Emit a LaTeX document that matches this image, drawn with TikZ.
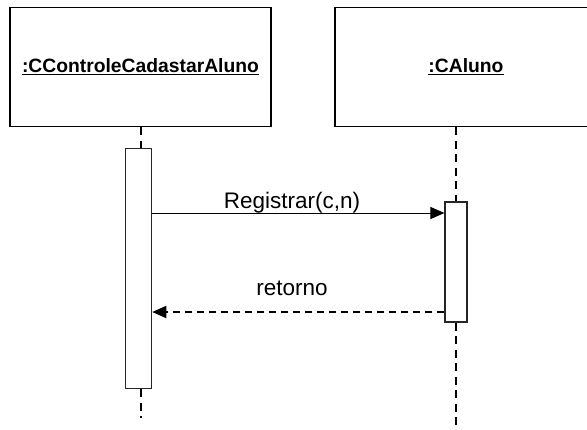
\documentclass[tikz,border=0pt]{standalone}
\usepackage{fontspec}
\setmainfont{Liberation Sans}
\usetikzlibrary{arrows.meta,calc}
\begin{document}
\begin{tikzpicture}[x=1pt,y=-1pt,
  objbox/.style={draw=black,line width=1.2pt,fill=white,minimum width=261pt,minimum height=119pt,inner sep=0pt,
    font=\fontsize{19.3}{23}\selectfont\bfseries},
  actbox/.style={draw=black!85,line width=1.1pt,fill=white,inner sep=0pt},
  lifeline/.style={line width=2pt,dash pattern=on 8pt off 5.5pt},
  msg/.style={line width=1pt,-{Triangle[length=14pt,width=12pt]}},
  ret/.style={line width=1.8pt,dash pattern=on 7pt off 5pt,-{Triangle[length=14pt,width=12pt]}},
  lbl/.style={font=\fontsize{22.5}{27}\selectfont,inner sep=0pt}]
\useasboundingbox (0,0) rectangle (587,429);
\begin{scope}
\clip (0,0) rectangle (587,429);
\node[objbox] (o1) at (140.5,67) {\underline{:CControleCadastarAluno}};
\node[objbox,minimum width=262pt] (o2) at (466,67) {\underline{:CAluno}};
\node[actbox,minimum width=26pt,minimum height=240pt] (a1) at (138.7,268.5) {};
\node[actbox,minimum width=22pt,minimum height=120pt] (a2) at (456,262) {};
\coordinate (e1) at (141,418);
\coordinate (e2) at (456,429);
\coordinate (m1) at (0,213);
\coordinate (m2) at (0,312);
\draw[lifeline] ($(o1.south)+(0.5,0)$) -- ($(o1.south |- a1.north)+(0.5,0)$);
\draw[lifeline] (e1 |- a1.south) -- (e1);
\draw[lifeline] (e2 |- o2.south) -- (e2 |- a2.north);
\draw[lifeline] (e2 |- a2.south) -- (e2);
\draw[msg] (a1.east |- m1) -- (a2.west |- m1);
\draw[ret] (a2.west |- m2) -- (a1.east |- m2);
\node[lbl,anchor=base] (l1) at (292,208) {Registrar(c,n)};
\node[lbl,anchor=base] (l2) at (292,295) {retorno};
\end{scope}
\end{tikzpicture}
\end{document}
